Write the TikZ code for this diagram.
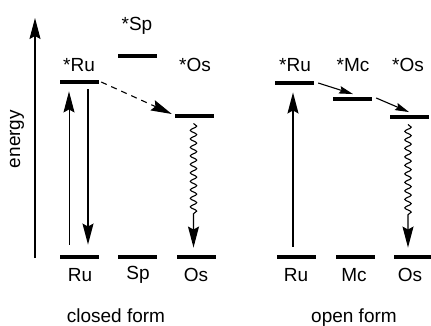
\documentclass[tikz,border=0pt]{standalone}
\usepackage{fontspec}
\setmainfont{Liberation Sans}
\usetikzlibrary{arrows.meta,decorations.pathmorphing,calc}
\begin{document}
\begin{tikzpicture}[x=1pt,y=-1pt,
  bar/.style={fill=black,minimum width=39pt,minimum height=4.5pt,inner sep=0pt},
  lbl/.style={font=\fontsize{19}{21}\selectfont,inner sep=0pt},
  bigtip/.style={-{Stealth[length=21pt,width=11pt,inset=3pt]}},
  smalltip/.style={-{Stealth[length=14pt,width=7.5pt,inset=2pt]}},
  wave/.style={decorate,decoration={snake,amplitude=3.2pt,segment length=8.5pt,post length=30pt}}]
\useasboundingbox (0,0) rectangle (431,325);
% axis
\coordinate (axB) at (35,258);
\coordinate (axT) at (35,18);
\draw[bigtip,line width=1.2pt] (axB) -- (axT);
\node[lbl,rotate=90] (energy) at (17,139) {energy};
% closed form
\node[bar] (ruE) at (79.5,82) {};
\node[bar] (spE) at (137.5,56) {};
\node[bar] (osE) at (194.5,116) {};
\node[bar] (ruG) at (79.5,257) {};
\node[bar] (spG) at (137.5,257) {};
\node[bar] (osG) at (196.5,257) {};
\node[lbl] (ruEl) at (79,65) {*Ru};
\node[lbl] (spEl) at (137,26) {*Sp};
\node[lbl] (osEl) at (195,65) {*Os};
\node[lbl] (ruGl) at (80,275) {Ru};
\node[lbl] (spGl) at (138,275) {Sp};
\node[lbl] (osGl) at (196,275) {Os};
\node[lbl,anchor=base] (closed) at (116,322) {closed form};
\draw[bigtip,line width=0.9pt] ($(ruG.north)+(-10.5,-10)$) -- ($(ruE.south)+(-10.5,7)$);
\draw[bigtip,line width=1.4pt] ($(ruE.south)+(8.5,5)$) -- ($(ruG.north)+(8.5,-10)$);
\draw[bigtip,line width=1.1pt,dash pattern=on 6pt off 5pt] ($(ruE.east)+(2,0)$) -- ($(osE.west)+(-3,-2)$);
\draw[line width=1.1pt,wave,bigtip] ($(osE.south)+(-1,5)$) -- ($(osE.south |- osG.north)+(-1,-7)$);
% open form
\node[bar] (ruE2) at (294.5,83) {};
\node[bar] (mcE) at (352.5,99) {};
\node[bar] (osE2) at (409.5,117) {};
\node[bar] (ruG2) at (296.5,257) {};
\node[bar] (mcG) at (355,257) {};
\node[bar] (osG2) at (413,257) {};
\node[lbl] (ruE2l) at (295,65) {*Ru};
\node[lbl] (mcEl) at (353,65) {*Mc};
\node[lbl] (osE2l) at (408,65) {*Os};
\node[lbl] (ruG2l) at (296,275) {Ru};
\node[lbl] (mcGl) at (354,275) {Mc};
\node[lbl] (osG2l) at (410,275) {Os};
\node[lbl,anchor=base] (open) at (354,322) {open form};
\draw[bigtip,line width=1.4pt] ($(ruG2.north)+(-3.5,-8)$) -- ($(ruE2.south)+(-1.5,7)$);
\draw[smalltip,line width=1.1pt] ($(ruE2.east)+(4,0)$) -- ($(mcE.north)+(0.5,-2.5)$);
\draw[smalltip,line width=1.1pt] ($(mcE.east)+(4,-1)$) -- ($(osE2.north)+(-0.5,-2.5)$);
\draw[line width=1.1pt,wave,bigtip] ($(osE2.south)+(-1.5,5)$) -- ($(osE2.south |- osG2.north)+(-1.5,-7)$);
\end{tikzpicture}
\end{document}
